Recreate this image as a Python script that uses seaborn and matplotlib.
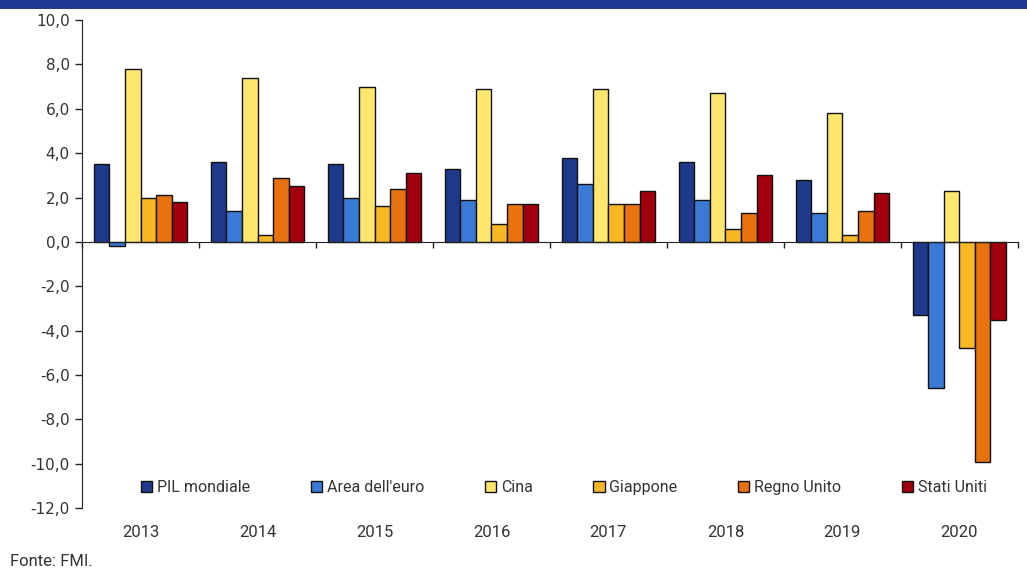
import numpy as np
import pandas as pd
import matplotlib
matplotlib.use("Agg")
import matplotlib.pyplot as plt
import matplotlib.ticker as mticker
from matplotlib.patches import Rectangle
import seaborn as sns

# Data (crescita PIL, %)
anni = ["2013", "2014", "2015", "2016", "2017", "2018", "2019", "2020"]
pil_mondiale = [3.5, 3.6, 3.5, 3.3, 3.8, 3.6, 2.8, -3.3]
area_euro = [-0.2, 1.4, 2.0, 1.9, 2.6, 1.9, 1.3, -6.6]
cina = [7.8, 7.4, 7.0, 6.9, 6.9, 6.7, 5.8, 2.3]
giappone = [2.0, 0.3, 1.6, 0.8, 1.7, 0.6, 0.3, -4.8]
regno_unito = [2.1, 2.9, 2.4, 1.7, 1.7, 1.3, 1.4, -9.9]
stati_uniti = [1.8, 2.5, 3.1, 1.7, 2.3, 3.0, 2.2, -3.5]

serie = ["PIL mondiale", "Area dell'euro", "Cina", "Giappone", "Regno Unito", "Stati Uniti"]
colori = ["#1f3a8c", "#3a7ad6", "#ffe66e", "#f8b824", "#e8720e", "#a3000f"]

valori = [pil_mondiale, area_euro, cina, giappone, regno_unito, stati_uniti]
df = pd.DataFrame({
    "Anno": np.tile(anni, len(serie)),
    "Paese": np.repeat(serie, len(anni)),
    "Valore": np.concatenate(valori),
})

sns.set_style("white")
plt.rcParams["font.family"] = ["DejaVu Sans"]
testo = "#333333"
narrow = ["Roboto", "DejaVu Sans"]

fig = plt.figure(figsize=(10.27, 5.71), dpi=100)
ax = fig.add_axes([0.080, 0.110, 0.911, 0.855])

sns.barplot(data=df, x="Anno", y="Valore", hue="Paese", order=anni,
            hue_order=serie, palette=colori, edgecolor="#111111",
            linewidth=1.0, width=0.8, saturation=1, ax=ax)

ax.set_ylim(-12, 10)
ax.set_xlim(-0.5, len(anni) - 0.5)
ax.yaxis.set_major_locator(mticker.MultipleLocator(2))
ax.yaxis.set_major_formatter(mticker.FuncFormatter(lambda v, p: f"{v:.1f}".replace(".", ",")))
ax.tick_params(axis="y", direction="out", length=5, width=1, color="#222222",
               labelsize=11, labelcolor=testo, pad=4, left=True)

# x axis line at zero with minor ticks between groups
for s in ["top", "right"]:
    ax.spines[s].set_visible(False)
ax.spines["left"].set_color("#222222")
ax.spines["bottom"].set_position(("data", 0))
ax.spines["bottom"].set_color("#222222")
ax.set_xticks(np.arange(len(anni) + 1) - 0.5, minor=True)
ax.set_xticks([])
ax.tick_params(axis="x", which="minor", direction="out", length=4, width=1,
               color="#222222", bottom=True)
ax.set_xlabel("")
ax.set_ylabel("")

sec = ax.secondary_xaxis(0.0)
sec.set_xticks(range(len(anni)))
sec.set_xticklabels(anni, family=narrow, fontsize=12, color=testo)
sec.tick_params(length=0, pad=12)
sec.spines["bottom"].set_visible(False)

leg = ax.legend(loc="lower center", bbox_to_anchor=(0.515, -0.002), ncol=6,
                frameon=False, handlelength=0.7, handleheight=0.7,
                handletextpad=0.3, columnspacing=3.8,
                prop={"family": narrow, "size": 11.5})
for t in leg.get_texts():
    t.set_color(testo)

# title band (cropped in the original)
fig.patches.append(Rectangle((0, 0.985), 1, 0.015, transform=fig.transFigure,
                             facecolor="#1f3a93", edgecolor="none"))

fig.text(0.01, 0.004, "Fonte: FMI.", family=narrow, fontsize=12, color=testo,
         ha="left", va="bottom")

fig.savefig("out.png", dpi=100)
